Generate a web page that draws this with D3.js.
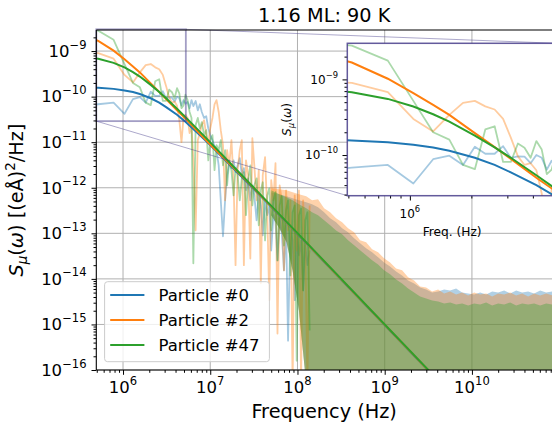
<!DOCTYPE html>
<meta charset="utf-8">
<script src="https://d3js.org/d3.v7.min.js"></script>
<style>
  body { margin: 0; background: #fff; }
  svg { display: block; }
  text { font-family: "DejaVu Sans", sans-serif; fill: #000; }
</style>
<div id="chart"></div>
<script>

// frequencies are in MHz, spectral densities in (eA)^2/Hz
var names = ["Particle #0", "Particle #2", "Particle #47"];
var colors = ["#1f77b4", "#ff7f0e", "#2ca02c"];

// lowest bins (the zoomed part)
var freqLow = [0.26, 0.52, 0.78, 1.04, 1.30, 1.56, 1.82, 2.08, 2.34, 2.60, 2.86, 3.12, 3.38, 3.64, 3.90, 4.16, 4.42, 4.68, 4.94, 5.20];
var raw0Low = [6.0e-11, 6.8e-11, 7.4e-11, 4.2e-11, 8.8e-11, 9.8e-11, 7.4e-11, 1.29e-10, 1.04e-10, 1.04e-10, 1.31e-10, 9.2e-11, 9.6e-11, 9.5e-11, 7.8e-11, 1.0e-10, 9.2e-11, 6.4e-11, 8.4e-11, 7.0e-11];
var raw2Low = [1.0e-9, 9.0e-10, 6.8e-10, 3.0e-10, 2.05e-10, 3.4e-10, 4.9e-10, 5.2e-10, 4.4e-10, 4.0e-10, 3.0e-10, 1.7e-10, 9.6e-11, 7.4e-11, 7.8e-11, 6.3e-11, 3.1e-11, 1.0e-11, 3.5e-11, 4.0e-11];
var raw47Low = [3.3e-9, 2.8e-9, 1.77e-9, 5.2e-10, 2.0e-10, 1.6e-10, 7.4e-11, 6.5e-11, 2.18e-10, 2.4e-10, 8.1e-11, 8.1e-11, 1.42e-10, 1.25e-10, 9.2e-11, 1.53e-10, 1.18e-10, 5.6e-11, 6.4e-11, 1.1e-10];

// middle range, spiky
var freqMid = [5.5, 5.8, 6.1, 6.4, 6.8, 7.2, 7.6, 8.0, 8.5, 9.0, 9.5, 10, 10.6, 11.2, 11.8, 12.5, 13.2, 14, 14.8, 15.6,
  16.5, 17.5, 18.5, 19.5, 20.6, 21.8, 23, 24.3, 25.7, 27.2, 28.8, 30.4, 32, 34, 36, 38, 40, 42.5, 45, 47.5,
  50, 53, 56, 59, 62.5, 66, 70, 74, 78, 83, 88, 93, 98, 104, 110, 116, 123, 130, 138];
var raw0Mid = [7.6e-11, 5.6e-11, 8.4e-11, 6.2e-11, 8.0e-11, 5.0e-11, 6.8e-11, 4.6e-11, 3.4e-11, 3.7e-11,
  2.0e-11, 1.43e-11, 1.11e-11, 8.2e-12, 6.7e-12, 3.1e-12, 5.3e-13, 8.6e-14, 5.3e-13, 1.9e-12,
  3.6e-12, 2.7e-12, 4.0e-12, 2.2e-12, 3.1e-12, 4.45e-12, 1.9e-12, 2.7e-12, 8.8e-13, 1.6e-12,
  5.3e-13, 1.13e-12, 6.8e-13, 1.93e-13, 8.0e-13, 4.1e-13, 9.0e-14, 5.3e-13, 2.5e-13, 4.1e-13,
  4.2e-14, 2.5e-13, 1.75e-13, 2.55e-14, 2.1e-13, 1.05e-13, 1.54e-14, 1.5e-13, 4.4e-16, 1.16e-13,
  7.0e-14, 3.4e-15, 1.05e-13, 3.3e-14, 7.0e-14, 5.6e-15, 5.4e-14, 2.0e-14, 4.2e-14];
var raw2Mid = [3.4e-11, 1.58e-11, 2.37e-11, 4.0e-12, 1.16e-13, 1.11e-11, 1.58e-11, 2.37e-11, 3.04e-11, 1.43e-11,
  9.5e-12, 2.0e-11, 3.4e-11, 6.8e-11, 8.4e-11, 4.6e-11, 1.84e-11, 8.6e-12, 5.3e-13, 6.7e-12,
  3.1e-12, 1.11e-11, 1.46e-12, 2.0e-14, 2.43e-12, 6.7e-12, 1.11e-11, 2.0e-14, 4.0e-12, 1.9e-12,
  2.8e-14, 1.22e-11, 3.1e-12, 5.3e-13, 2.43e-12, 8.0e-15, 1.9e-12, 4.7e-12, 3.2e-13, 3.4e-15,
  1.46e-12, 5.3e-13, 3.45e-12, 6.3e-16, 1.13e-12, 5.3e-13, 1.54e-14, 8.8e-13, 1.16e-13, 5.3e-13,
  5e-17, 6.8e-13, 4.2e-14, 8.8e-13, 5e-17, 5.3e-13, 5.4e-14, 5e-17, 4.1e-13];
var raw47Mid = [8.4e-11, 4.6e-11, 3.4e-11, 2.2e-14, 2.37e-11, 3.4e-11, 2.0e-11, 2.75e-11, 1.43e-11, 1.84e-11,
  4.0e-12, 1.11e-11, 1.43e-11, 2.43e-12, 8.6e-12, 6.7e-12, 1.11e-11, 3.1e-12, 6.7e-12, 1.13e-12,
  4.0e-12, 2.43e-12, 6.8e-13, 2.7e-12, 1.9e-12, 5.3e-13, 1.6e-12, 2.2e-12, 2.5e-13, 1.46e-12,
  3.1e-12, 4.1e-13, 1.13e-12, 1.6e-12, 1.5e-13, 8.8e-13, 1.32e-12, 7.0e-14, 6.8e-13, 9.7e-13,
  1.16e-13, 5.3e-13, 8.0e-13, 2.55e-14, 4.1e-13, 6.5e-13, 5.4e-14, 3.2e-13, 5.3e-13, 1.19e-14,
  2.9e-13, 4.1e-13, 1.6e-16, 2.5e-13, 3.5e-13, 5.6e-15, 1.93e-13, 2.9e-13, 7.4e-16];

// high range: dense bins, read as an upper envelope (and a lower one where it is above the axis)
var freqBand = [50, 62, 75, 88, 104,
  126, 147, 172, 202, 237, 277, 325, 380, 446, 522, 612, 717, 840, 984, 1153, 1351, 1583, 1855, 2174, 2547,
  2985, 3497, 4097, 4800, 5623, 6589, 7721, 9045, 10598, 12417, 14550, 17050, 19980, 23400, 27420, 32130, 37650, 44110,
  51680, 60560, 70950, 83130, 92380];
var band0Top = [8.0e-13, 7.2e-13, 6.5e-13, 5.88e-13, 5.31e-13,
  4.80e-13, 4.34e-13, 3.73e-13, 2.89e-13, 2.14e-13, 1.75e-13, 1.29e-13, 1.05e-13, 7.76e-14, 6.03e-14,
  4.68e-14, 3.82e-14, 2.97e-14, 2.30e-14, 1.88e-14, 1.46e-14, 1.19e-14, 9.27e-15, 7.96e-15, 6.50e-15,
  5.88e-15, 5.05e-15, 5.31e-15, 5.88e-15, 5.59e-15, 6.18e-15, 5.05e-15, 4.80e-15, 4.56e-15, 5.05e-15,
  4.56e-15, 5.31e-15, 5.05e-15, 5.59e-15, 4.80e-15, 5.59e-15, 5.05e-15, 5.31e-15, 4.80e-15, 5.59e-15,
  5.05e-15, 5.31e-15, 5.05e-15];
var band2Top = [9.7e-13, 9.27e-13, 8.8e-13, 8.0e-13, 7.2e-13,
  6.50e-13, 5.31e-13, 5.59e-13, 3.54e-13, 2.89e-13, 2.14e-13, 1.75e-13, 1.29e-13, 1.05e-13, 7.02e-14,
  6.34e-14, 4.45e-14, 3.82e-14, 2.82e-14, 2.30e-14, 1.70e-14, 1.54e-14, 1.08e-14, 9.27e-15, 6.84e-15,
  6.50e-15, 5.31e-15, 5.88e-15, 4.80e-15, 5.31e-15, 4.56e-15, 5.05e-15, 4.34e-15, 5.05e-15, 4.56e-15,
  4.80e-15, 4.12e-15, 4.80e-15, 4.56e-15, 5.05e-15, 4.34e-15, 4.80e-15, 4.12e-15, 4.80e-15, 4.34e-15,
  4.80e-15, 4.34e-15, 4.56e-15];
var band47Top = [8.8e-13, 7.2e-13, 6.18e-13, 5.31e-13, 4.34e-13,
  3.54e-13, 2.89e-13, 2.49e-13, 1.93e-13, 1.50e-13, 1.16e-13, 9.51e-14, 7.02e-14, 5.45e-14, 4.23e-14,
  3.28e-14, 2.55e-14, 2.08e-14, 1.54e-14, 1.26e-14, 9.75e-15, 7.96e-15, 6.18e-15, 5.05e-15, 4.12e-15,
  3.73e-15, 3.37e-15, 3.20e-15, 2.89e-15, 3.04e-15, 2.75e-15, 2.89e-15, 2.62e-15, 2.89e-15, 2.75e-15,
  3.04e-15, 2.62e-15, 2.89e-15, 2.75e-15, 3.04e-15, 2.62e-15, 2.89e-15, 2.75e-15, 2.89e-15, 2.62e-15,
  2.89e-15, 2.75e-15, 2.89e-15];
// lower edge of the solid part, only for the first bins; past these it lies below the axis
var bandBottom = [2.49e-13, 1.29e-13, 6.34e-14, 1.5e-14, 2.0e-15, 5e-17];

// fitted curves
var fitFreq = [0.26, 0.52, 0.78, 1.04, 1.30, 1.56, 2.08, 2.60, 3.12, 4.16, 5.20, 7.80, 10.4, 20.8, 52, 104, 1000, 10000, 100000];
var fit0 = [1.62e-10, 1.56e-10, 1.48e-10, 1.37e-10, 1.26e-10, 1.14e-10, 9.2e-11, 7.4e-11, 5.9e-11, 4.0e-11, 2.8e-11, 1.36e-11, 8.0e-12, 2.1e-12, 3.55e-13, 8.95e-14, 9.7e-16, 9.7e-18, 9.7e-20];
var fit2 = [2.7e-9, 1.67e-9, 1.02e-9, 6.6e-10, 4.6e-10, 3.4e-10, 1.95e-10, 1.27e-10, 8.9e-11, 5.0e-11, 3.3e-11, 1.46e-11, 8.2e-12, 2.2e-12, 3.62e-13, 9.1e-14, 9.85e-16, 9.85e-18, 9.85e-20];
var fit47 = [7.86e-10, 6.78e-10, 5.52e-10, 4.38e-10, 3.46e-10, 2.76e-10, 1.81e-10, 1.26e-10, 9.2e-11, 5.4e-11, 3.55e-11, 1.62e-11, 9.2e-12, 2.31e-12, 3.71e-13, 9.3e-14, 1.0e-15, 1.0e-17, 1.0e-19];

var xTickExp = [6, 7, 8, 9, 10];
var yTickExp = [-16, -15, -14, -13, -12, -11, -10, -9];
var insetXTickExp = [6];
var insetYTickExp = [-10, -9];

var plot = {left: 96.3, right: 553, top: 30, bottom: 370};
var ins = {left: 347.3, right: 557, top: 43.3, bottom: 195.7};

var svg = d3.select("#chart").append("svg")
  .attr("width", 552)
  .attr("height", 430);

var x = d3.scaleLog().domain([4.94e5, 8.5e10]).range([plot.left, plot.right]);
var y = d3.scaleLog().domain([1e-16, 2.9e-9]).range([plot.bottom, plot.top]);
var xi = d3.scaleLog().domain([4.94e5, 5.25e6]).range([ins.left, ins.right]);
var yi = d3.scaleLog().domain([2.9e-11, 3.0e-9]).range([ins.bottom, ins.top]);

function pts(freqs, vals, lows) {
  return freqs.map(function(f, i) {
    return {f: f * 1e6, v: vals[i], lo: lows && i < lows.length ? lows[i] : null};
  });
}

var series = [
  {raw: pts(freqLow, raw0Low).concat(pts(freqMid, raw0Mid)), band: pts(freqBand, band0Top, bandBottom), fit: pts(fitFreq, fit0)},
  {raw: pts(freqLow, raw2Low).concat(pts(freqMid, raw2Mid)), band: pts(freqBand, band2Top, bandBottom), fit: pts(fitFreq, fit2)},
  {raw: pts(freqLow, raw47Low).concat(pts(freqMid, raw47Mid)), band: pts(freqBand, band47Top, bandBottom), fit: pts(fitFreq, fit47)}
];

function minorTicks(scale) {
  var d = scale.domain(), out = [];
  for (var e = Math.floor(Math.log10(d[0])); e <= Math.ceil(Math.log10(d[1])); e++) {
    for (var m = 2; m <= 9; m++) {
      var v = m * Math.pow(10, e);
      if (v >= d[0] && v <= d[1]) out.push(v);
    }
  }
  return out;
}

function sciLabel(sel, exp, size) {
  sel.append("tspan").text("10");
  sel.append("tspan")
    .attr("font-size", size * 0.7)
    .attr("dy", -size * 0.5)
    .text(exp < 0 ? "\u2212" + (-exp) : exp);
}

// clip paths
var defs = svg.append("defs");
defs.append("clipPath").attr("id", "clipMain").append("rect")
  .attr("x", plot.left).attr("y", plot.top)
  .attr("width", plot.right - plot.left).attr("height", plot.bottom - plot.top);
defs.append("clipPath").attr("id", "clipInset").append("rect")
  .attr("x", ins.left).attr("y", ins.top)
  .attr("width", ins.right - ins.left).attr("height", ins.bottom - ins.top);

// grid
var grid = svg.append("g").attr("stroke", "#b0b0b0").attr("stroke-width", 1);
grid.selectAll(".gx").data(xTickExp).enter().append("line")
  .attr("x1", function(e) { return x(Math.pow(10, e)); })
  .attr("x2", function(e) { return x(Math.pow(10, e)); })
  .attr("y1", plot.top).attr("y2", plot.bottom);
grid.selectAll(".gy").data(yTickExp).enter().append("line")
  .attr("y1", function(e) { return y(Math.pow(10, e)); })
  .attr("y2", function(e) { return y(Math.pow(10, e)); })
  .attr("x1", plot.left).attr("x2", plot.right);

// main data
var main = svg.append("g").attr("clip-path", "url(#clipMain)");
var lineMain = d3.line().x(function(d) { return x(d.f); }).y(function(d) { return y(d.v); });
var areaMain = d3.area()
  .x(function(d) { return x(d.f); })
  .y0(function(d) { return d.lo ? y(d.lo) : plot.bottom + 2; })
  .y1(function(d) { return y(d.v); });

series.forEach(function(s, i) {
  main.append("path").datum(s.raw)
    .attr("d", lineMain)
    .attr("fill", "none")
    .attr("stroke", colors[i])
    .attr("stroke-opacity", 0.4)
    .attr("stroke-width", 1.8)
    .attr("stroke-linejoin", "round");
  main.append("path").datum(s.band)
    .attr("d", areaMain)
    .attr("fill", colors[i])
    .attr("fill-opacity", 0.35);
});
series.forEach(function(s, i) {
  main.append("path").datum(s.fit)
    .attr("d", lineMain)
    .attr("fill", "none")
    .attr("stroke", colors[i])
    .attr("stroke-width", 2);
});

// zoom box and connectors
var zx0 = x(xi.domain()[0]), zx1 = x(xi.domain()[1]);
var zy0 = y(yi.domain()[0]), zy1 = y(yi.domain()[1]);
svg.append("rect")
  .attr("x", zx0).attr("y", zy1)
  .attr("width", zx1 - zx0).attr("height", zy0 - zy1)
  .attr("fill", "none")
  .attr("stroke", "#483d8b").attr("stroke-opacity", 0.5).attr("stroke-width", 1.8);
svg.append("line")
  .attr("x1", zx1).attr("y1", zy1).attr("x2", ins.right).attr("y2", ins.top)
  .attr("stroke", "#483d8b").attr("stroke-opacity", 0.45).attr("stroke-width", 1);
svg.append("line")
  .attr("x1", zx0).attr("y1", zy0).attr("x2", ins.left).attr("y2", ins.bottom)
  .attr("stroke", "#483d8b").attr("stroke-opacity", 0.45).attr("stroke-width", 1);

// spines
var spines = svg.append("g").attr("stroke", "#000").attr("stroke-width", 1.1);
spines.append("line").attr("x1", plot.left).attr("x2", plot.left).attr("y1", plot.top).attr("y2", plot.bottom);
spines.append("line").attr("x1", plot.left).attr("x2", plot.right).attr("y1", plot.bottom).attr("y2", plot.bottom);
spines.append("line").attr("x1", plot.left).attr("x2", plot.right).attr("y1", plot.top).attr("y2", plot.top);

// ticks
function tickAxis(axis, values, size, tx, ty) {
  svg.append("g")
    .attr("transform", "translate(" + tx + "," + ty + ")")
    .call(axis.tickValues(values).tickSize(size).tickSizeOuter(0).tickFormat(""))
    .call(function(g) { g.select(".domain").remove(); g.selectAll("text").remove(); });
}
var xMajor = xTickExp.map(function(e) { return Math.pow(10, e); });
var yMajor = yTickExp.map(function(e) { return Math.pow(10, e); });
tickAxis(d3.axisBottom(x), xMajor, 4.8, 0, plot.bottom);
tickAxis(d3.axisBottom(x), minorTicks(x), 2.8, 0, plot.bottom);
tickAxis(d3.axisLeft(y), yMajor, 4.8, plot.left, 0);
tickAxis(d3.axisLeft(y), minorTicks(y), 2.8, plot.left, 0);

// tick labels
svg.selectAll(".xl").data(xTickExp).enter().append("text")
  .attr("x", function(e) { return x(Math.pow(10, e)); })
  .attr("y", plot.bottom + 23.3)
  .attr("text-anchor", "middle")
  .attr("font-size", 16.5)
  .each(function(e) { sciLabel(d3.select(this), e, 16.5); });
svg.selectAll(".yl").data(yTickExp).enter().append("text")
  .attr("x", plot.left - 9.8)
  .attr("y", function(e) { return y(Math.pow(10, e)) + 5.8; })
  .attr("text-anchor", "end")
  .attr("font-size", 16.5)
  .each(function(e) { sciLabel(d3.select(this), e, 16.5); });

// titles
svg.append("text")
  .attr("x", (plot.left + 552) / 2).attr("y", 21.7)
  .attr("text-anchor", "middle").attr("font-size", 19.3)
  .text("1.16 ML: 90 K");
svg.append("text")
  .attr("x", (plot.left + 552) / 2).attr("y", 418.3)
  .attr("text-anchor", "middle").attr("font-size", 19.3)
  .text("Frequency (Hz)");

var yl = svg.append("text")
  .attr("transform", "translate(23," + (plot.top + plot.bottom) / 2 + ") rotate(-90)")
  .attr("text-anchor", "middle").attr("font-size", 19.3);
yl.append("tspan").attr("font-style", "italic").text("S");
yl.append("tspan").attr("font-style", "italic").attr("font-size", 13.5).attr("dy", 4).text("\u03bc");
yl.append("tspan").attr("dy", -4).text("(");
yl.append("tspan").attr("font-style", "italic").text("\u03c9");
yl.append("tspan").text(") [(e\u00c5)");
yl.append("tspan").attr("font-size", 13.5).attr("dy", -8).text("2");
yl.append("tspan").attr("dy", 8).text("/Hz]");

// legend
var leg = svg.append("g");
leg.append("rect")
  .attr("x", 104.6).attr("y", 281.7).attr("width", 164.8).attr("height", 80)
  .attr("rx", 3)
  .attr("fill", "#fff").attr("fill-opacity", 0.8)
  .attr("stroke", "#cccccc").attr("stroke-width", 1);
names.forEach(function(n, i) {
  var cy = 295 + i * 25;
  leg.append("line")
    .attr("x1", 110.2).attr("x2", 144.4).attr("y1", cy).attr("y2", cy)
    .attr("stroke", colors[i]).attr("stroke-width", 2);
  leg.append("text")
    .attr("x", 158.5).attr("y", cy + 6.2)
    .attr("font-size", 16.5)
    .text(n);
});

// inset
var inset = svg.append("g");
inset.append("rect")
  .attr("x", ins.left).attr("y", ins.top)
  .attr("width", ins.right - ins.left).attr("height", ins.bottom - ins.top)
  .attr("fill", "#fff");
var insData = inset.append("g").attr("clip-path", "url(#clipInset)");
var lineIns = d3.line().x(function(d) { return xi(d.f); }).y(function(d) { return yi(d.v); });
series.forEach(function(s, i) {
  insData.append("path").datum(s.raw)
    .attr("d", lineIns)
    .attr("fill", "none")
    .attr("stroke", colors[i])
    .attr("stroke-opacity", 0.4)
    .attr("stroke-width", 1.8)
    .attr("stroke-linejoin", "round");
});
series.forEach(function(s, i) {
  insData.append("path").datum(s.fit)
    .attr("d", lineIns)
    .attr("fill", "none")
    .attr("stroke", colors[i])
    .attr("stroke-width", 2);
});

var ixMajor = insetXTickExp.map(function(e) { return Math.pow(10, e); });
var iyMajor = insetYTickExp.map(function(e) { return Math.pow(10, e); });
tickAxis(d3.axisBottom(xi), ixMajor, 4.8, 0, ins.bottom);
tickAxis(d3.axisBottom(xi), minorTicks(xi), 2.8, 0, ins.bottom);
tickAxis(d3.axisLeft(yi), iyMajor, 4.8, ins.left, 0);
tickAxis(d3.axisLeft(yi), minorTicks(yi), 2.8, ins.left, 0);

svg.append("rect")
  .attr("x", ins.left).attr("y", ins.top)
  .attr("width", ins.right - ins.left).attr("height", ins.bottom - ins.top)
  .attr("fill", "none")
  .attr("stroke", "#483d8b").attr("stroke-opacity", 0.85).attr("stroke-width", 1.5);

svg.selectAll(".ixl").data(insetXTickExp).enter().append("text")
  .attr("x", function(e) { return xi(Math.pow(10, e)); })
  .attr("y", ins.bottom + 22.5)
  .attr("text-anchor", "middle")
  .attr("font-size", 12)
  .each(function(e) { sciLabel(d3.select(this), e, 12); });
svg.selectAll(".iyl").data(insetYTickExp).enter().append("text")
  .attr("x", ins.left - 9.3)
  .attr("y", function(e) { return yi(Math.pow(10, e)) + 4.3; })
  .attr("text-anchor", "end")
  .attr("font-size", 12)
  .each(function(e) { sciLabel(d3.select(this), e, 12); });

svg.append("text")
  .attr("x", (ins.left + ins.right) / 2).attr("y", 235.5)
  .attr("text-anchor", "middle").attr("font-size", 12.2)
  .text("Freq. (Hz)");
var iyl = svg.append("text")
  .attr("transform", "translate(291," + (ins.top + ins.bottom) / 2 + ") rotate(-90)")
  .attr("text-anchor", "middle").attr("font-size", 12.2);
iyl.append("tspan").attr("font-style", "italic").text("S");
iyl.append("tspan").attr("font-style", "italic").attr("font-size", 8.5).attr("dy", 2.5).text("\u03bc");
iyl.append("tspan").attr("dy", -2.5).text("(");
iyl.append("tspan").attr("font-style", "italic").text("\u03c9");
iyl.append("tspan").text(")");

</script>
